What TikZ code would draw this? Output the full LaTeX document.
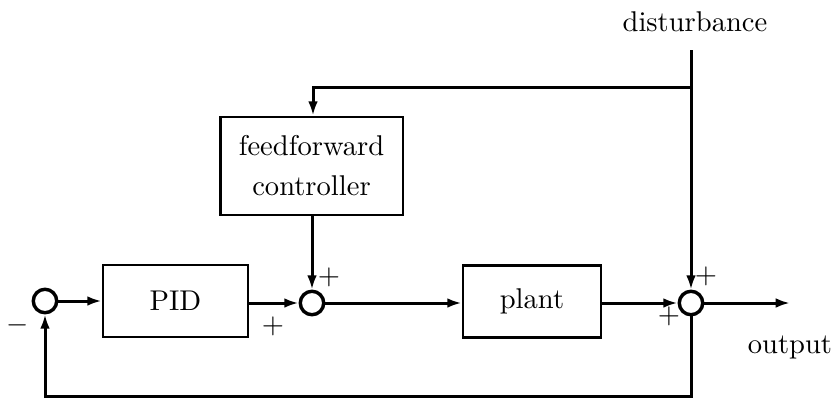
\documentclass[tikz,border=0pt]{standalone}
\usetikzlibrary{arrows.meta}
\begin{document}
\begin{tikzpicture}[x=0.35pt,y=-0.35pt,
  blk/.style={draw,line width=1pt,inner sep=0pt,align=center},
  sumj/.style={draw,circle,line width=1.2pt,minimum size=8.2pt,inner sep=0pt},
  conn/.style={line width=1.05pt},
  arr/.style={conn,-{Latex[length=5pt,width=3.4pt]}},
  lbl/.style={inner sep=0pt}]
\useasboundingbox (0,0) rectangle (839,400);
% nodes
\node[sumj] (s1) at (45,301) {};
\node[blk,minimum width=50.75pt,minimum height=25.2pt] (pid) at (175.5,301) {PID};
\node[sumj] (s2) at (312,303) {};
\node[blk,minimum width=64pt,minimum height=34.3pt] (ff) at (311.5,166) {feedforward\\[2pt]controller};
\node[blk,minimum width=48.3pt,minimum height=25pt] (plant) at (532,301.5) {plant};
\node[sumj] (s3) at (691,303) {};
\coordinate (dtop) at (691,50);
\coordinate (br) at (691,87);
\coordinate (fftop) at (313,87);
\coordinate (out) at (790,303);
\coordinate (fb) at (691,396);
\coordinate (fbl) at (45,396);
% texts
\node[lbl] (dist) at (695,22) {disturbance};
\node[lbl] (outl) at (790,347) {output};
\node[lbl] (m1) at (18,325) {$-$};
\node[lbl] (p1) at (329,277) {$+$};
\node[lbl] (p2) at (273,326) {$+$};
\node[lbl] (p3) at (706,276) {$+$};
\node[lbl] (p4) at (669,316) {$+$};
% connectors
\draw[arr] (s1.east) -- (s1.east -| pid.west);
\draw[arr] (pid.east |- s2.west) -- (s2.west);
\draw[arr] (ff.south -| s2.north) -- (s2.north);
\draw[arr] (s2.east) -- (s2.east -| plant.west);
\draw[arr] (plant.east |- s3.west) -- (s3.west);
\draw[arr] (dtop) -- (s3.north);
\draw[arr] (br) -- (fftop) -- (fftop |- ff.north);
\draw[arr] (s3.east) -- (out);
\draw[arr] (s3.south) -- (fb) -- (fbl) -- (s1.south);
\end{tikzpicture}
\end{document}
